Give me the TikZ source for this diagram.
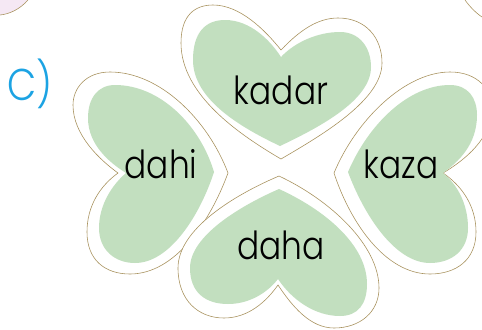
\documentclass[tikz,border=0pt]{standalone}
\usepackage{fontspec}
\usepackage{xcolor}
\usepackage{tikz}
\usetikzlibrary{positioning}
\newfontfamily\lblfont[FakeStretch=0.85]{Poppins Light}
\definecolor{leafgreen}{HTML}{C2DFBF}
\definecolor{rimbrown}{HTML}{A8925E}
\definecolor{letterblue}{HTML}{1CA3E3}
\definecolor{petalpink}{HTML}{F5E8F4}

\begin{document}
\begin{tikzpicture}[
  x=0.03cm, y=-0.03cm,
  rim/.style={draw=rimbrown, line width=0.5pt, fill=white},
  leaf/.style={fill=leafgreen},
  word/.style={font=\lblfont\fontsize{33}{36}\selectfont, inner sep=0pt, anchor=base},
]
\useasboundingbox (0,0) rectangle (482,329);
% neighbouring shapes cut off at the corners
\fill[petalpink] (0,0) -- (28,0) .. controls (20,9) and (10,14) .. (0,15) -- cycle;
\draw[rimbrown, line width=0.5pt] (28,0) .. controls (20,9) and (10,14) .. (0,15);
\draw[rimbrown, line width=0.5pt] (465,0) .. controls (470,7) and (476,13) .. (482,17);
% top heart
\draw[rim] (281,159) .. controls (240,135) and (181,95) .. (181,43)
  .. controls (181,15) and (195,5) .. (213,5) .. controls (240,5) and (265,30) .. (281,50)
  .. controls (300,30) and (318,18) .. (338,18) .. controls (366,18) and (382,38) .. (382,63)
  .. controls (382,100) and (322,135) .. cycle;
\fill[leaf] (280,146) .. controls (242,128) and (193,100) .. (193,60)
  .. controls (193,33) and (205,20) .. (225,20) .. controls (250,20) and (270,40) .. (281,57)
  .. controls (295,42) and (318,32) .. (340,32) .. controls (360,32) and (371,48) .. (371,67)
  .. controls (371,100) and (320,127) .. cycle;
% left heart
\draw[rim] (228,173) .. controls (208,120) and (160,72) .. (110,72)
  .. controls (86,72) and (73,88) .. (73,105) .. controls (73,135) and (100,160) .. (118,173)
  .. controls (100,186) and (87,206) .. (87,232) .. controls (87,260) and (105,274) .. (130,274)
  .. controls (175,274) and (210,222) .. cycle;
\fill[leaf] (214,172) .. controls (200,125) and (160,85) .. (115,85)
  .. controls (98,85) and (88,98) .. (88,118) .. controls (88,145) and (110,163) .. (126,173)
  .. controls (112,185) and (99,205) .. (99,228) .. controls (99,250) and (115,263) .. (135,263)
  .. controls (170,263) and (200,215) .. cycle;
% right heart
\draw[rim] (334,173) .. controls (356,120) and (405,72) .. (450,72)
  .. controls (478,72) and (492,90) .. (492,108) .. controls (492,138) and (465,160) .. (443,173)
  .. controls (462,186) and (476,206) .. (476,232) .. controls (476,260) and (456,274) .. (430,274)
  .. controls (385,274) and (350,222) .. cycle;
\fill[leaf] (348,172) .. controls (368,125) and (408,85) .. (450,85)
  .. controls (468,85) and (477,98) .. (477,115) .. controls (477,145) and (458,162) .. (443,173)
  .. controls (458,185) and (468,205) .. (468,228) .. controls (468,250) and (452,263) .. (430,263)
  .. controls (395,263) and (364,215) .. cycle;
% bottom heart
\draw[rim] (279,176) .. controls (232,196) and (178,230) .. (178,268)
  .. controls (178,300) and (198,318) .. (224,318) .. controls (248,318) and (266,302) .. (278,285)
  .. controls (292,306) and (310,328) .. (334,328) .. controls (360,328) and (379,312) .. (379,288)
  .. controls (379,245) and (330,200) .. cycle;
\fill[leaf] (279,189) .. controls (240,206) and (190,236) .. (190,268)
  .. controls (190,292) and (205,304) .. (228,304) .. controls (250,304) and (268,292) .. (278,279)
  .. controls (292,300) and (315,316) .. (340,316) .. controls (358,316) and (367,304) .. (367,284)
  .. controls (367,245) and (325,210) .. cycle;
% words
\node[word] (kadar) at (281,104) {kadar};
\node[word] (dahi) at (161,178) {dahi};
\node[word] (kaza) at (401,178) {kaza};
\node[word] (daha) at (281,259) {daha};
\node[font=\lblfont\fontsize{38}{40}\selectfont, text=letterblue, inner sep=0pt, anchor=base] (label) at (30,100) {C)};
\end{tikzpicture}
\end{document}
